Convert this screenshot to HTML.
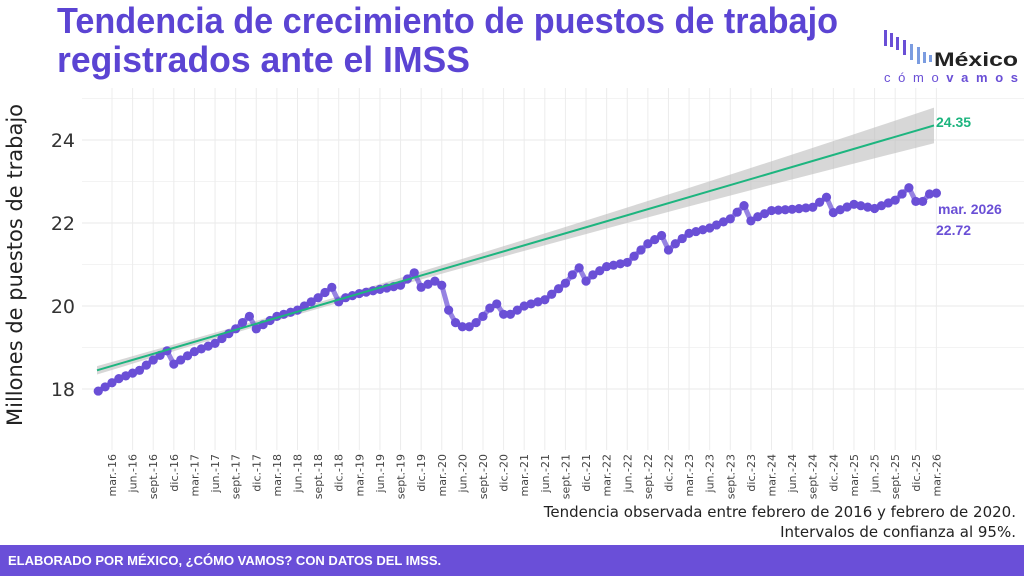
<!DOCTYPE html><html><head><meta charset="utf-8"><style>
body{margin:0;width:1024px;height:576px;background:#fff;font-family:"Liberation Sans",sans-serif;overflow:hidden;position:relative}
.foot{position:absolute;left:0;top:545px;width:1024px;height:31px;background:#6a4fd8;color:#fff;font-size:13px;font-weight:bold;line-height:31px;padding-left:8px;box-sizing:border-box}
.note{position:absolute;right:8px;top:502px;text-align:right;font-size:15px;line-height:20px;color:#222;font-family:"DejaVu Sans",sans-serif}
</style></head><body>
<svg id="s" width="1024" height="576" style="position:absolute;left:0;top:0"></svg>
<div class="note">Tendencia observada entre febrero de 2016 y febrero de 2020.<br>Intervalos de confianza al 95%.</div>
<div class="foot">ELABORADO POR MÉXICO, ¿CÓMO VAMOS? CON DATOS DEL IMSS.</div>
<script>
const X=i=>112+i*6.87, Y=v=>389-(v-18)*41.5;
const anchors=[[-2,17.95],[1,18.25],[4,18.45],[6,18.7],[8,18.92],[9,18.6],[10,18.7],[12,18.9],[15,19.1],[18,19.45],[20,19.75],[21,19.45],[22,19.55],[24,19.75],[27,19.9],[30,20.2],[32,20.45],[33,20.1],[34,20.2],[36,20.3],[39,20.4],[42,20.5],[44,20.8],[45,20.45],[47,20.6],[48,20.5],[49,19.9],[50,19.6],[51,19.5],[52,19.5],[53,19.6],[54,19.75],[55,19.95],[56,20.05],[57,19.8],[58,19.8],[60,20.0],[63,20.15],[66,20.55],[67,20.75],[68,20.92],[69,20.6],[70,20.75],[72,20.95],[75,21.05],[78,21.5],[80,21.7],[81,21.35],[82,21.5],[84,21.75],[87,21.88],[90,22.1],[92,22.42],[93,22.05],[94,22.15],[96,22.3],[99,22.33],[102,22.38],[104,22.62],[105,22.25],[106,22.32],[108,22.45],[111,22.35],[114,22.55],[116,22.85],[117,22.52],[118,22.52],[119,22.7],[120,22.72]];
let pts=[];for(let i=-2;i<=120;i++){for(let k=0;k<anchors.length-1;k++){const a=anchors[k],b=anchors[k+1];if(i>=a[0]&&i<=b[0]){pts.push([X(i),Y(a[1]+(b[1]-a[1])*(i-a[0])/(b[0]-a[0]))]);break;}}}
const mon=["mar.","jun.","sept.","dic."];
let s='';
s+=`<text x="57" y="33" font-size="36" font-weight="bold" fill="#5b44d3" textLength="781" lengthAdjust="spacingAndGlyphs">Tendencia de crecimiento de puestos de trabajo</text>`;
s+=`<text x="57" y="72" font-size="36" font-weight="bold" fill="#5b44d3" textLength="413" lengthAdjust="spacingAndGlyphs">registrados ante el IMSS</text>`;
for(let v=18;v<=24;v+=2)s+=`<line x1="82" x2="1024" y1="${Y(v)}" y2="${Y(v)}" stroke="#e8e8e8" stroke-width="1"/>`;
for(let v=19;v<=25;v+=2)s+=`<line x1="82" x2="1024" y1="${Y(v)}" y2="${Y(v)}" stroke="#f3f3f3" stroke-width="1"/>`;
for(let k=0;k<=40;k++){const x=X(k*3);s+=`<line x1="${x}" x2="${x}" y1="88" y2="450" stroke="#ececec"/>`;
const yr=16+Math.floor((k)/4);const lab=mon[k%4]+"-"+yr;
s+=`<text transform="translate(${x+4},454) rotate(-90)" text-anchor="end" font-size="11" fill="#444" font-family="DejaVu Sans,sans-serif">${lab}</text>`;}
for(let v=18;v<=24;v+=2)s+=`<text x="75" y="${Y(v)+7}" text-anchor="end" font-size="19" fill="#333" font-family="DejaVu Sans,sans-serif">${v}</text>`;
s+=`<text transform="translate(22,265) rotate(-90)" text-anchor="middle" font-size="21" fill="#222" font-family="DejaVu Sans,sans-serif">Millones de puestos de trabajo</text>`;
const x0=97,x1=934;const y0=18.45,y1=24.35;let up=[],lo=[];
for(let j=0;j<=20;j++){const x=x0+(x1-x0)*j/20;const v=y0+(y1-y0)*j/20;const d=Math.abs(x-265)/837;const w=0.07+0.5*d*d+0.05*d;up.push(`${x},${Y(v+w)}`);lo.unshift(`${x},${Y(v-w)}`);}
s+=`<polygon points="${up.concat(lo).join(' ')}" fill="#bdbdbd" opacity="0.6"/>`;
s+=`<polyline points="${pts.map(p=>p.join(',')).join(' ')}" fill="none" stroke="#6a4fd6" stroke-opacity="0.7" stroke-width="5"/>`;
pts.forEach(p=>s+=`<circle cx="${p[0]}" cy="${p[1]}" r="4.6" fill="#6a4fd6"/>`);
s+=`<line x1="${x0}" y1="${Y(y0)}" x2="${x1}" y2="${Y(y1)}" stroke="#1db57f" stroke-width="2"/>`;
s+=`<text x="936" y="127" font-size="14" font-weight="bold" fill="#1db57f">24.35</text>`;
s+=`<text x="938" y="214" font-size="14" font-weight="bold" fill="#6a4fd6">mar. 2026</text>`;
s+=`<text x="936" y="235" font-size="14" font-weight="bold" fill="#6a4fd6">22.72</text>`;
const bars=[[884,30,16],[890,33,14],[896,37,13],[903,40,15],[910,44,16],[917,47,17],[923,52,11],[929,55,7]];
bars.forEach((b,i)=>s+=`<rect x="${b[0]}" y="${b[1]}" width="3" height="${b[2]}" fill="${i<4?'#6a4fd6':'#7b9ce0'}"/>`);
s+=`<text x="934" y="66" font-size="19" font-weight="bold" fill="#222" textLength="84" lengthAdjust="spacingAndGlyphs">México</text>`;
s+=`<text x="884" y="82" font-size="13" fill="#6a4fd6" textLength="134" lengthAdjust="spacing">cómo<tspan font-weight="bold">vamos</tspan></text>`;
document.getElementById('s').innerHTML=s;
</script></body></html>
